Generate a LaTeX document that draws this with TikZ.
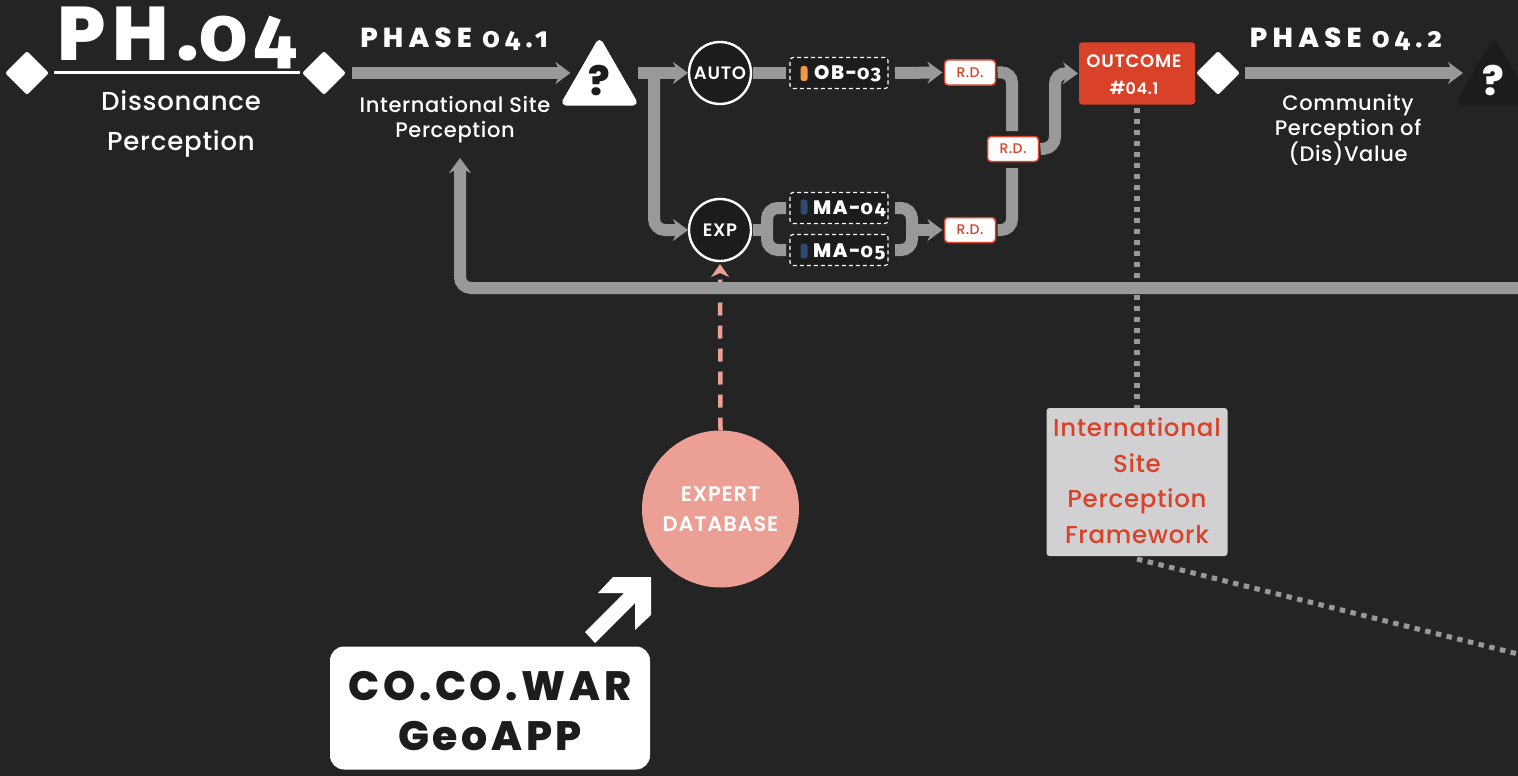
\documentclass[tikz,border=0pt]{standalone}
\usepackage{fontspec}
\usetikzlibrary{arrows.meta,shapes.geometric,calc}
\setmainfont{Poppins}
\newfontfamily\hd[LetterSpace=9]{Poppins ExtraBold}
\newfontfamily\hdw[LetterSpace=19]{Poppins ExtraBold}
\newfontfamily\hdold[LetterSpace=9,Numbers=OldStyle]{Fira Sans ExtraBold}
\newfontfamily\hdoldw[LetterSpace=19,Numbers=OldStyle]{Fira Sans ExtraBold}
\newfontfamily\bd[LetterSpace=3]{Poppins Medium}
\newfontfamily\bdn[LetterSpace=4]{Poppins SemiBold}
\definecolor{bg}{HTML}{242424}
\definecolor{gr}{HTML}{999999}
\definecolor{rd}{HTML}{D94228}
\definecolor{sal}{HTML}{EC9F94}
\definecolor{dk}{HTML}{1C1C1C}
\definecolor{orn}{HTML}{F09A45}
\definecolor{nav}{HTML}{2E4A70}
\definecolor{lg}{HTML}{D1D1D3}
\tikzset{
 x=1pt,y=-1pt,
 every node/.style={inner sep=0pt,outer sep=0pt,align=center,text=white},
 dia/.style={diamond,fill=white,draw=white,line width=4pt,line join=round,minimum width=38pt,minimum height=38pt},
 flow/.style={draw=gr,line width=12pt,-{Stealth[length=15pt,width=22pt,inset=5pt]},rounded corners=11pt},
 bar/.style={draw=gr,line width=12pt,rounded corners=11pt},
 tri/.style={regular polygon,regular polygon sides=3,minimum size=78pt,draw,line width=7pt,line join=round},
 gate/.style={circle,draw=white,fill=dk,line width=2.4pt,minimum size=62pt,font=\fontsize{18}{18}\bdn},
 tag/.style={draw=white,dashed,dash pattern=on 4pt off 3pt,line width=1.2pt,fill=dk,rounded corners=3pt,minimum width=98pt,minimum height=31pt},
 rdb/.style={draw=rd,line width=1.5pt,fill=white,rounded corners=3.5pt,minimum width=51pt,minimum height=25pt,text=rd,font=\fontsize{14}{14}\bd},
 taglab/.style={font=\fontsize{19.5}{19.5}\hd,anchor=west},
 pill/.style={rounded corners=2.5pt,minimum width=7pt,minimum height=15pt},
 body/.style={font=\fontsize{21}{25}\bd},
 phase/.style={font=\fontsize{27.5}{27.5}\hdw},
}
\begin{document}
\begin{tikzpicture}
\path[fill=bg,use as bounding box] (0,0) rectangle (1518,776);
% header
\node[dia] (d1) at (27,73) {};
\node[dia] (d2) at (324,73) {};
\draw[white,line width=3pt] ($(d1.east)+(8,0)$) -- ($(d2.west)+(-5,0)$);
\node (ph) at (177,38) {\fontsize{76}{76}\hd PH.{\hdold 04}};
\node[font=\fontsize{26}{40}\bd] (dp) at (181,124) {Dissonance\\Perception};
\node[phase] (p1) at (454,39) {PHASE {\hdoldw 04.1}};
\node[body] (isp) at (455,119.5) {International Site\\Perception};
\node[tri,fill=white,draw=white] (q1) at (599.5,82.5) {};
\node[font=\fontsize{40}{40}\hd,text=dk] (q1t) at (599,81) {?};
\draw[flow] ($(d2.east)+(9,0)$) -- ($(q1.center)+(-29,-9.5)$);
% gates
\node[gate] (auto) at (720,73) {AUTO};
\node[gate] (exp) at (720,230) {EXP};
\coordinate (j1) at (654,73);
\draw[flow,shorten >=1pt] (638,73) -- (auto.west);
\draw[flow,shorten >=1pt] (j1) -- (654,230) -- (exp.west);
% tags
\node[tag] (ob) at (839,73) {};
\node[pill,fill=orn] (po) at (804,73.5) {};
\node[taglab] (obt) at (814,74) {OB-{\hdold 03}};
\node[tag] (ma4) at (839,208) {};
\node[pill,fill=nav] (p4) at (804,207) {};
\node[taglab] (ma4t) at (813,209) {MA-{\hdold 04}};
\node[tag] (ma5) at (839,250) {};
\node[pill,fill=nav] (p5) at (804,251) {};
\node[taglab] (ma5t) at (813,252) {MA-{\hdold 05}};
% R.D.
\node[rdb] (r1) at (970,72.5) {R.D.};
\node[rdb] (r2) at (970,230) {R.D.};
\node[rdb] (r3) at (1013,149) {R.D.};
\node[fill=rd,rounded corners=3pt,minimum width=116pt,minimum height=62pt] (oc) at (1137,73.5) {};
\node[font=\fontsize{18}{27}\bdn] (oct) at (1134,75) {OUTCOME\\\#{\fontsize{16}{16}\selectfont 04.1}};
% connectors
\draw[bar] ($(auto.east)+(2,0)$) -- ($(ob.west)+(-4,0)$);
\draw[flow] ($(ob.east)+(7,0)$) -- ($(r1.west)+(-2,0)$);
\draw[bar] ($(exp.east)+(2,0)$) -- (772,230);
\draw[bar] ($(ma4.west)+(-4,0)$) -- (767,208) -- (767,250) -- ($(ma5.west)+(-4,0)$);
\draw[bar] ($(ma4.east)+(7,0)$) -- (912,208) -- (912,250) -- ($(ma5.east)+(7,0)$);
\draw[flow] (912,230) -- ($(r2.west)+(-2,0)$);
\draw[bar] ($(r1.east)+(2,0)$) -- (1012,72) -- (1012,131);
\draw[bar] ($(r2.east)+(2,0)$) -- (1012,230) -- (1012,168);
\draw[flow] ($(r3.east)+(2,0)$) -- (1055,148) -- (1055,73) -- ($(oc.west)+(-1,0)$);
% phase 4.2
\node[dia] (d3) at (1218,73) {};
\node[phase] (p2) at (1346,39) {PHASE {\hdoldw 04.2}};
\node[body] (cp) at (1348,130) {Community\\Perception of\\(Dis)Value};
\node[tri,fill=dk,draw=dk] (q2) at (1494,82.5) {};
\node[font=\fontsize{40}{40}\hd] (q2t) at (1493,81) {?};
\draw[flow] ($(d3.east)+(8,0)$) -- ($(q2.center)+(-31,-9.5)$);
% expert
\node[circle,fill=sal,minimum size=157pt,font=\fontsize{21}{30}\bdn] (ex) at (720.5,509) {EXPERT\\DATABASE};
\draw[sal,line width=4.5pt,dash pattern=on 13pt off 10pt,shorten >=3pt,-{Stealth[length=13pt,width=18pt,inset=4pt]}] (ex.north) -- (exp.south);
% feedback
\coordinate (fb) at (1518,288);
\draw[flow] (fb) -- (460,288) -- (460,158);
% outcome link
\node[fill=lg,rounded corners=3pt,minimum width=181pt,minimum height=148pt] (frm) at (1137,482) {};
\node[text=rd,font=\fontsize{24.5}{35.5}\bd] (frmt) at (1137,480.5) {International\\Site\\Perception\\Framework};
\draw[gr,line width=5.5pt,dash pattern=on 5.5pt off 5.5pt] (oc.south) ++(0,3) -- (frm.north);
\coordinate (fe) at (1518,654);
\draw[gr,line width=5pt,dash pattern=on 5.5pt off 5.5pt] (frm.south) ++(0,3) -- (fe);
% app
\node[fill=white,rounded corners=14pt,minimum width=320pt,minimum height=123pt] (app) at (490,708) {};
\node[text=dk,font=\fontsize{41}{50}\hd] (appt) at (490,711) {CO.CO.WAR\\GeoAPP};
\path[fill=white] (585,632) -- (624,593) -- (598,593) -- (613,577) -- (651,577) -- (651,615) -- (635,630) -- (635,603) -- (595,643) -- cycle;
\end{tikzpicture}
\end{document}
